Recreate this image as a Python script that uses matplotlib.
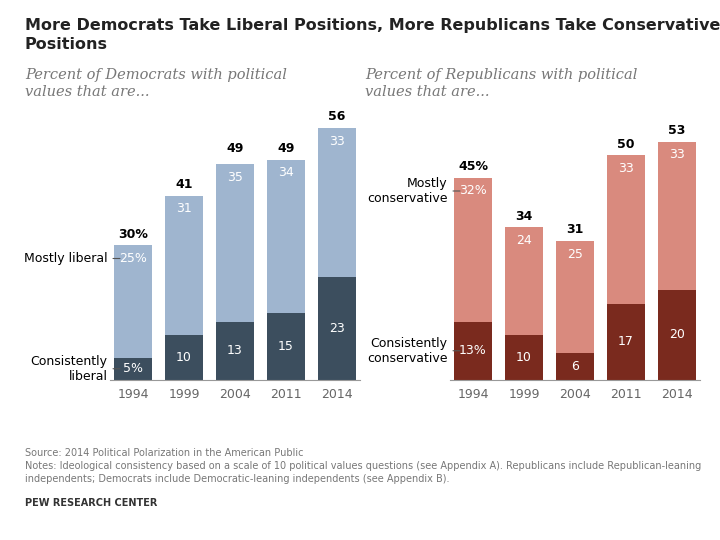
import matplotlib.pyplot as plt

years = ["1994", "1999", "2004", "2011", "2014"]
dem_consistent = [5, 10, 13, 15, 23]
dem_mostly = [25, 31, 35, 34, 33]
dem_total = [30, 41, 49, 49, 56]
rep_consistent = [13, 10, 6, 17, 20]
rep_mostly = [32, 24, 25, 33, 33]
rep_total = [45, 34, 31, 50, 53]

fig = plt.figure(figsize=(7.2, 5.4), dpi=100)
fig.patch.set_facecolor("white")

def panel(left, cons, most, tot, cdark, clight, lab_c, lab_m, subtitle):
    ax = fig.add_axes([left / 720, 160 / 540, 250 / 720, 270 / 540])
    x = range(len(years))
    ax.bar(x, cons, width=0.75, color=cdark)
    ax.bar(x, most, bottom=cons, width=0.75, color=clight)
    for i in x:
        pc = "%" if i == 0 else ""
        if cons[i] >= 5:
            ax.text(i, cons[i] / 2, f"{cons[i]}{pc}", ha="center", va="center", color="white", fontsize=9)
        ax.text(i, cons[i] + most[i] - 3, f"{most[i]}{pc}", ha="center", va="center", color="white", fontsize=9)
        ax.text(i, tot[i] + 1, f"{tot[i]}{pc}", ha="center", va="bottom", color="black", fontsize=9, fontweight="bold")
    ax.set_xlim(-0.45, 4.45)
    ax.set_ylim(0, 60)
    ax.set_yticks([])
    ax.set_xticks(list(x))
    ax.set_xticklabels(years, color="#666666", fontsize=9)
    ax.tick_params(axis="x", length=0, pad=6)
    for s in ["top", "right", "left"]:
        ax.spines[s].set_visible(False)
    ax.spines["bottom"].set_color("#999999")
    ax.annotate(lab_m, xy=(-0.2, cons[0] + most[0] - 3), xytext=(-0.5, cons[0] + most[0] - 3),
                ha="right", va="center", fontsize=9, annotation_clip=False,
                arrowprops=dict(arrowstyle="-", color="#555555", lw=0.8))
    ax.annotate(lab_c, xy=(-0.2, cons[0] / 2), xytext=(-0.5, cons[0] / 2),
                ha="right", va="center", fontsize=9, annotation_clip=False,
                arrowprops=dict(arrowstyle="-", color="#555555", lw=0.8))
    fig.text((left - 85) / 720, 1 - 68 / 540, subtitle, ha="left", va="top", fontsize=10.5,
             style="italic", family="DejaVu Serif", color="#777777", linespacing=1.3)
    return ax

panel(110, dem_consistent, dem_mostly, dem_total, "#3c4e5e", "#9fb5cf",
      "Consistently\nliberal", "Mostly liberal",
      "Percent of Democrats with political\nvalues that are...")
panel(450, rep_consistent, rep_mostly, rep_total, "#7a2a1e", "#d98a7e",
      "Consistently\nconservative", "Mostly\nconservative",
      "Percent of Republicans with political\nvalues that are...")

fig.text(25 / 720, 1 - 18 / 540, "More Democrats Take Liberal Positions, More Republicans Take Conservative\nPositions",
         ha="left", va="top", fontsize=11.5, fontweight="bold", color="#222222", linespacing=1.3)
fig.text(25 / 720, 1 - 448 / 540,
         "Source: 2014 Political Polarization in the American Public\n"
         "Notes: Ideological consistency based on a scale of 10 political values questions (see Appendix A). Republicans include Republican-leaning\n"
         "independents; Democrats include Democratic-leaning independents (see Appendix B).",
         ha="left", va="top", fontsize=7, color="#777777", linespacing=1.4)
fig.text(25 / 720, 1 - 498 / 540, "PEW RESEARCH CENTER", ha="left", va="top", fontsize=7,
         fontweight="bold", color="#333333")
fig.savefig("out.png", dpi=100)
